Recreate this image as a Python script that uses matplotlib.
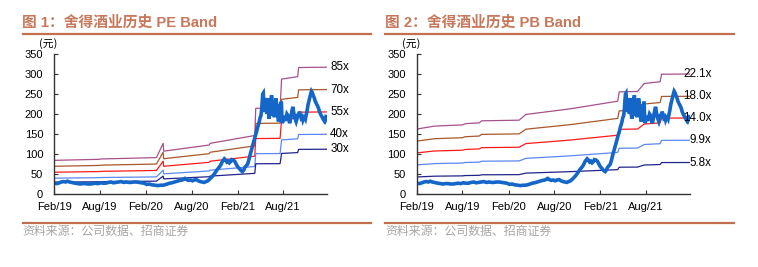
import numpy as np
import pandas as pd
import matplotlib
matplotlib.use("Agg")
import matplotlib.pyplot as plt

plt.rcParams['font.family'] = ['Liberation Sans', 'Noto Sans CJK SC', 'DejaVu Sans']

# 股价 (元)
price_dates = [
    "2019-02-01", "2019-02-12", "2019-02-20", "2019-03-01", "2019-03-10", "2019-03-18",
    "2019-03-25", "2019-04-03", "2019-04-10", "2019-04-18", "2019-04-25", "2019-05-06",
    "2019-05-15", "2019-05-25", "2019-06-05", "2019-06-15", "2019-06-25", "2019-07-05",
    "2019-07-15", "2019-07-25", "2019-08-05", "2019-08-15", "2019-08-25", "2019-09-05",
    "2019-09-15", "2019-09-25", "2019-10-05", "2019-10-15", "2019-10-25", "2019-11-05",
    "2019-11-15", "2019-11-25", "2019-12-05", "2019-12-15", "2019-12-25", "2020-01-05",
    "2020-01-15", "2020-01-25", "2020-02-05", "2020-02-15", "2020-02-25", "2020-03-08",
    "2020-03-20", "2020-03-30", "2020-04-10", "2020-04-22", "2020-05-05", "2020-05-15",
    "2020-05-25", "2020-06-05", "2020-06-15", "2020-06-25", "2020-07-06", "2020-07-13",
    "2020-07-20", "2020-07-28", "2020-08-05", "2020-08-12", "2020-08-20", "2020-08-28",
    "2020-09-05", "2020-09-12", "2020-09-20", "2020-09-28", "2020-10-05", "2020-10-12",
    "2020-10-20", "2020-10-27", "2020-11-03", "2020-11-10", "2020-11-18", "2020-11-25",
    "2020-12-01", "2020-12-05", "2020-12-10", "2020-12-15", "2020-12-20", "2020-12-25",
    "2020-12-30", "2021-01-04", "2021-01-08", "2021-01-14", "2021-01-20", "2021-01-25",
    "2021-01-30", "2021-02-04", "2021-02-10", "2021-02-15", "2021-02-20", "2021-02-25",
    "2021-03-01", "2021-03-06", "2021-03-12", "2021-03-17", "2021-03-22", "2021-03-27",
    "2021-04-02", "2021-04-07", "2021-04-12", "2021-04-17", "2021-04-22", "2021-04-27",
    "2021-05-01", "2021-05-05", "2021-05-08", "2021-05-10", "2021-05-12", "2021-05-14",
    "2021-05-17", "2021-05-19", "2021-05-22", "2021-05-24", "2021-05-26", "2021-05-28",
    "2021-06-01", "2021-06-03", "2021-06-06", "2021-06-09", "2021-06-12", "2021-06-15",
    "2021-06-17", "2021-06-20", "2021-06-23", "2021-06-25", "2021-06-28", "2021-07-01",
    "2021-07-03", "2021-07-06", "2021-07-09", "2021-07-12", "2021-07-14", "2021-07-17",
    "2021-07-20", "2021-07-23", "2021-07-25", "2021-07-27", "2021-07-29", "2021-08-02",
    "2021-08-05", "2021-08-09", "2021-08-12", "2021-08-16", "2021-08-20", "2021-08-24",
    "2021-08-27", "2021-08-31", "2021-09-03", "2021-09-06", "2021-09-09", "2021-09-12",
    "2021-09-15", "2021-09-18", "2021-09-22", "2021-09-26", "2021-09-29", "2021-10-02",
    "2021-10-05", "2021-10-09", "2021-10-12", "2021-10-16", "2021-10-19", "2021-10-22",
    "2021-10-26", "2021-10-29", "2021-11-01", "2021-11-04", "2021-11-08", "2021-11-11",
    "2021-11-14", "2021-11-18", "2021-11-22", "2021-11-24", "2021-11-26", "2021-11-30",
    "2021-12-04", "2021-12-07", "2021-12-10", "2021-12-13", "2021-12-15", "2021-12-20",
    "2021-12-24", "2021-12-28", "2022-01-01", "2022-01-04", "2022-01-06", "2022-01-09",
    "2022-01-12", "2022-01-15", "2022-01-17", "2022-01-20", "2022-01-22",
]
price = [
    27, 26, 28, 30, 31, 30,
    32, 30, 29, 28, 27, 26,
    25, 26, 26, 25, 25, 26,
    27, 26, 28, 27, 27, 29,
    30, 28, 29, 30, 31, 29,
    30, 29, 29, 30, 30, 29,
    28, 27, 24, 25, 23, 22,
    21, 22, 22, 24, 27, 28,
    30, 32, 34, 35, 39, 36,
    34, 35, 33, 35, 36, 33,
    31, 30, 29, 31, 33, 37,
    42, 47, 53, 60, 66, 72,
    80, 84, 88, 85, 80, 82,
    78, 81, 86, 85, 82, 76,
    70, 66, 62, 58, 56, 60,
    66, 70, 74, 84, 97, 108,
    122, 133, 145, 155, 168, 178,
    190, 197, 215, 235, 250, 252,
    220, 205, 228, 240, 222, 200,
    239, 210, 188, 205, 230, 243,
    243, 215, 195, 200, 192, 215,
    239, 226, 200, 190, 181, 205,
    225, 210, 231, 200, 177, 186,
    195, 183, 189, 200, 196, 185,
    177, 188, 200, 210, 218, 205,
    195, 188, 181, 190, 200, 195,
    206, 198, 190, 193, 185, 190,
    192, 188, 198, 206, 222, 230,
    239, 248, 257, 255, 252, 245,
    239, 232, 228, 224, 222, 215,
    206, 200, 195, 192, 189, 186,
    183, 188, 185, 190, 193,
]

# 每股收益 (TTM)
eps_dates = [
    "2019-02-01", "2019-07-31", "2019-08-05", "2020-03-14", "2020-04-10", "2020-04-12",
    "2020-10-10", "2020-10-14", "2021-04-10", "2021-04-14", "2021-07-20", "2021-07-26",
    "2021-09-28", "2021-10-02", "2022-01-22",
]
eps = [0.99, 1.02, 1.03, 1.07, 1.49, 1.26, 1.44, 1.49, 1.72, 2.52, 2.53, 3.38, 3.45, 3.72, 3.73]
pe_multiples = [85, 70, 55, 40, 30]
pe_labels = ["85x", "70x", "55x", "40x", "30x"]

# 每股净资产
bps_dates = [
    "2019-02-01", "2019-04-12", "2019-08-02", "2019-08-11", "2019-10-07", "2019-10-17",
    "2020-03-14", "2020-04-10", "2020-08-28", "2020-10-07", "2021-04-11", "2021-04-17",
    "2021-06-29", "2021-07-26", "2021-09-27", "2021-10-03", "2022-01-22",
]
bps = [7.35, 7.68, 7.82, 7.95, 8.05, 8.28, 8.35, 9.0, 9.5, 9.65, 10.5, 11.55,
       11.6, 12.5, 12.7, 13.55, 13.57]
pb_multiples = [22.1, 18.0, 14.0, 9.9, 5.8]
pb_labels = ["22.1x", "18.0x", "14.0x", "9.9x", "5.8x"]

band_colors = ["#A8508A", "#A8582A", "#FF1A1A", "#5B88F5", "#23238C"]
tick_dates = ["2019-02-01", "2019-08-01", "2020-02-01", "2020-08-01", "2021-02-01", "2021-08-01"]
tick_labels = ["Feb/19", "Aug/19", "Feb/20", "Aug/20", "Feb/21", "Aug/21"]

title_color = "#C8785A"
W, H = 758, 267


def draw_panel(ax, base_dates, base, multiples, labels):
    bd = pd.to_datetime(base_dates)
    for m, lab, c in zip(multiples, labels, band_colors):
        vals = np.array(base) * m
        ax.plot(bd, vals, color=c, lw=0.9)
        ax.annotate(lab, xy=(1.0, vals[-1]), xycoords=('axes fraction', 'data'),
                    xytext=(22, 0), textcoords='offset pixels',
                    ha='right', va='center', fontsize=8.4)
    ax.plot(pd.to_datetime(price_dates), price, color="#1466C8", lw=2.6,
            solid_joinstyle='miter')
    ax.set_xlim(pd.Timestamp("2019-02-01"), pd.Timestamp("2022-01-23"))
    ax.set_ylim(0, 350)
    ax.set_yticks(range(0, 351, 50))
    ax.set_xticks(pd.to_datetime(tick_dates))
    ax.set_xticklabels(tick_labels)
    ax.spines['top'].set_visible(False)
    ax.spines['right'].set_visible(False)
    for s in ('left', 'bottom'):
        ax.spines[s].set_color('#333333')
        ax.spines[s].set_linewidth(1.0)
    ax.tick_params(axis='both', direction='in', length=3, width=0.8, labelsize=8,
                   color='#333333')
    ax.tick_params(axis='y', pad=8)
    ax.tick_params(axis='x', pad=6)
    ax.text(-0.021, 1.075, "(元)", transform=ax.transAxes, fontsize=7.8,
            ha='center', va='center', family=['Noto Sans CJK SC'])


fig = plt.figure(figsize=(W / 100, H / 100), dpi=100)

ax1 = fig.add_axes([54.3 / W, (H - 194) / H, 272.7 / W, 140 / H])
draw_panel(ax1, eps_dates, eps, pe_multiples, pe_labels)
ax2 = fig.add_axes([417 / W, (H - 194) / H, 272.7 / W, 140 / H])
draw_panel(ax2, bps_dates, bps, pb_multiples, pb_labels)

titles = ["图 1：舍得酒业历史 PE Band", "图 2：舍得酒业历史 PB Band"]
for x0, x1, t in [(22.5, 371, titles[0]), (385, 734, titles[1])]:
    fig.text(x0 / W, 1 - 23 / H, t, color=title_color, fontsize=10.6, fontweight='bold',
             ha='left', va='center')
    fig.add_artist(plt.Line2D([x0 / W, x1 / W], [1 - 33.5 / H] * 2, color="#C0704F",
                              lw=1.6, transform=fig.transFigure))
    fig.add_artist(plt.Line2D([x0 / W, x1 / W], [1 - 222.5 / H] * 2, color="#C0704F",
                              lw=1.6, transform=fig.transFigure))
    fig.text(x0 / W, 1 - 231 / H, "资料来源：公司数据、招商证券", color="#A6A6A6",
             fontsize=8.6, ha='left', va='center', family=['Noto Sans CJK SC'])

fig.savefig("out.png", dpi=100)
